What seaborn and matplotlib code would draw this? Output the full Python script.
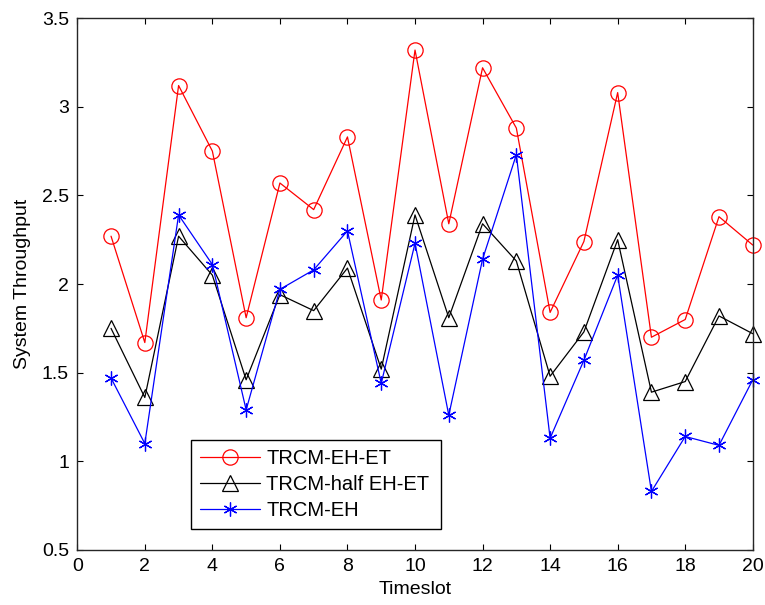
import numpy as np
import pandas as pd
import seaborn as sns
import matplotlib
matplotlib.use("Agg")
import matplotlib.pyplot as plt

timeslot = list(range(1, 21))
trcm_eh_et = [2.27, 1.67, 3.12, 2.75, 1.81, 2.57, 2.42, 2.83, 1.91, 3.32,
              2.34, 3.22, 2.88, 1.84, 2.24, 3.08, 1.70, 1.80, 2.38, 2.22]
trcm_half = [1.75, 1.36, 2.27, 2.05, 1.46, 1.94, 1.85, 2.09, 1.52, 2.39,
             1.81, 2.34, 2.13, 1.48, 1.73, 2.25, 1.39, 1.45, 1.82, 1.72]
trcm_eh = [1.47, 1.10, 2.39, 2.11, 1.29, 1.97, 2.08, 2.30, 1.44, 2.23,
           1.26, 2.14, 2.73, 1.13, 1.57, 2.05, 0.83, 1.14, 1.09, 1.46]
names = ["TRCM-EH-ET", "TRCM-half EH-ET", "TRCM-EH"]

df = pd.DataFrame({"Timeslot": timeslot * 3,
                   "val": trcm_eh_et + trcm_half + trcm_eh,
                   "scheme": [n for n in names for _ in timeslot]})

sns.set_style("ticks")
plt.rcParams['font.family'] = ['Liberation Sans', 'DejaVu Sans']
plt.rcParams['text.color'] = 'black'
plt.rcParams['axes.labelcolor'] = 'black'
plt.rcParams['xtick.color'] = 'black'
plt.rcParams['ytick.color'] = 'black'

fig = plt.figure(figsize=(7.65, 6.05), dpi=100)
ax = fig.add_axes([0.101, 0.091, 0.883, 0.879])

colors = {"TRCM-EH-ET": "red", "TRCM-half EH-ET": "black", "TRCM-EH": "blue"}
markers = {"TRCM-EH-ET": "o", "TRCM-half EH-ET": "^", "TRCM-EH": (6, 2, 0)}
sizes = {"TRCM-EH-ET": 11, "TRCM-half EH-ET": 12, "TRCM-EH": 10}
for n in names:
    sub = df[df.scheme == n]
    sns.lineplot(data=sub, x="Timeslot", y="val", ax=ax, color=colors[n], lw=0.9,
                 marker=markers[n], markersize=sizes[n],
                 markerfacecolor="none", markeredgecolor=colors[n],
                 markeredgewidth=0.9, label=n, clip_on=False)

ax.set_xlim(0, 20)
ax.set_ylim(0.5, 3.5)
ax.set_xticks(range(0, 21, 2))
ax.set_yticks([0.5, 1, 1.5, 2, 2.5, 3, 3.5])
ax.set_yticklabels(["0.5", "1", "1.5", "2", "2.5", "3", "3.5"])
ax.tick_params(direction="in", top=True, right=True, labelsize=14, length=4, pad=6)
for s in ax.spines.values():
    s.set_linewidth(1.0)
ax.set_xlabel("Timeslot", fontsize=14, labelpad=4)
ax.set_ylabel("System Throughput", fontsize=14, labelpad=8)

leg = ax.legend(loc="lower left", bbox_to_anchor=(0.168, 0.039, 0.37, 0.179),
                mode="expand", fontsize=14.5, frameon=True, fancybox=False,
                edgecolor="black", framealpha=1, handlelength=3.0,
                handletextpad=0.3, borderpad=0.45, labelspacing=0.35,
                borderaxespad=0)
leg.get_frame().set_linewidth(1.0)

fig.savefig("out.png", dpi=100)
